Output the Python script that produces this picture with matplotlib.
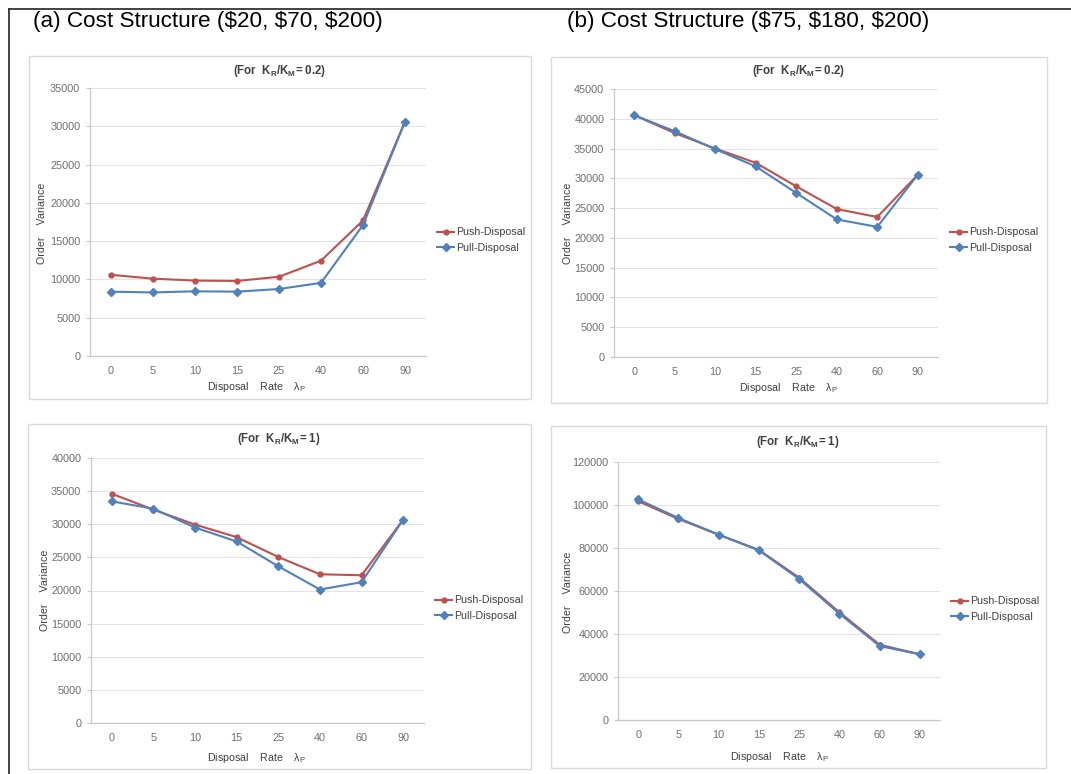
import matplotlib
matplotlib.use("Agg")
import matplotlib.pyplot as plt
from matplotlib.patches import Rectangle
from matplotlib.lines import Line2D

plt.rcParams['font.family'] = ['Liberation Sans', 'DejaVu Sans']
plt.rcParams['mathtext.fontset'] = 'custom'
plt.rcParams['mathtext.rm'] = 'Liberation Sans'
plt.rcParams['mathtext.it'] = 'Liberation Sans:italic'
plt.rcParams['mathtext.bf'] = 'Liberation Sans:bold'

rates = ['0', '5', '10', '15', '25', '40', '60', '90']

# (a) cost structure ($20, $70, $200)
push_a02 = [10600, 10100, 9850, 9800, 10350, 12450, 17700, 30600]
pull_a02 = [8400, 8300, 8450, 8400, 8750, 9550, 17100, 30600]
push_a1 = [34600, 32200, 29950, 28050, 25050, 22450, 22300, 30700]
pull_a1 = [33450, 32350, 29500, 27400, 23650, 20150, 21250, 30700]

# (b) cost structure ($75, $180, $200)
push_b02 = [40600, 37600, 35000, 32600, 28650, 24850, 23500, 30600]
pull_b02 = [40600, 37900, 34900, 32000, 27550, 23100, 21850, 30600]
push_b1 = [101800, 93500, 86200, 79100, 66200, 50100, 35000, 30550]
pull_b1 = [102600, 93950, 86200, 78900, 65600, 49450, 34400, 30550]

headers = ['(a) Cost Structure ($20, $70, $200)',
           '(b) Cost Structure ($75, $180, $200)']

RED = '#C0504D'
BLUE = '#4F81BD'
W, H = 1071, 774

fig = plt.figure(figsize=(W / 100, H / 100), dpi=100)


def fx(x):
    return x / W


def fy(y):
    return 1 - y / H


# outer frame (top and left edges only)
fig.add_artist(Line2D([fx(9), 1.0], [fy(9), fy(9)], color='#222222', lw=1.2))
fig.add_artist(Line2D([fx(9), fx(9)], [fy(9), 0.0], color='#222222', lw=1.2))

fig.text(fx(33), fy(22), headers[0], fontsize=16.2, va='center', ha='left')
fig.text(fx(567), fy(22), headers[1], fontsize=16.2, va='center', ha='left')

panels = [
    # box (x0, y0, x1, y1), axes (l, t, r, b), text anchors in pixels
    dict(box=(29, 56, 531, 399), ax=(90, 88, 426, 356), push=push_a02, pull=pull_a02,
         ymax=35000, step=5000, kr='0.2', title=(280, 71), xl=(256, 387), yl=(42, 223), leg=(437, 240)),
    dict(box=(551, 57, 1047, 403), ax=(614, 89, 938, 357), push=push_b02, pull=pull_b02,
         ymax=45000, step=5000, kr='0.2', title=(799, 71), xl=(788, 388), yl=(568, 223), leg=(950, 240)),
    dict(box=(28, 424, 531, 769), ax=(91, 458, 424, 723), push=push_a1, pull=pull_a1,
         ymax=40000, step=5000, kr='1', title=(279, 439), xl=(256, 758), yl=(45, 590), leg=(435, 608)),
    dict(box=(551, 426, 1046, 768), ax=(618, 462, 940, 720), push=push_b1, pull=pull_b1,
         ymax=120000, step=20000, kr='1', title=(798, 442), xl=(779, 757), yl=(568, 592), leg=(951, 609)),
]

for p in panels:
    x0, y0, x1, y1 = p['box']
    fig.add_artist(Rectangle((fx(x0), fy(y1)), fx(x1 - x0), (y1 - y0) / H,
                             transform=fig.transFigure, fill=False,
                             edgecolor='#D9D9D9', lw=1.0))
    l, t, r, b = p['ax']
    ax = fig.add_axes([fx(l), fy(b), fx(r - l), (b - t) / H])
    xs = range(len(rates))
    ax.plot(xs, p['push'], color=RED, lw=1.5, marker='o', ms=3.5,
            label='Push-Disposal', zorder=3)
    ax.plot(xs, p['pull'], color=BLUE, lw=1.5, marker='D', ms=4.5,
            label='Pull-Disposal', zorder=4)
    ax.set_xlim(-0.5, len(rates) - 0.5)
    ax.set_ylim(0, p['ymax'])
    ax.set_yticks(range(0, p['ymax'] + 1, p['step']))
    ax.set_xticks(list(xs))
    ax.set_xticklabels(rates)
    ax.grid(axis='y', color='#E3E3E3', lw=0.8)
    ax.set_axisbelow(True)
    for s in ('top', 'right'):
        ax.spines[s].set_visible(False)
    for s in ('left', 'bottom'):
        ax.spines[s].set_color('#C8C8C8')
        ax.spines[s].set_linewidth(0.9)
    ax.tick_params(axis='y', length=3, color='#C8C8C8', labelsize=7.8,
                   labelcolor='#6E6E6E', pad=4)
    ax.tick_params(axis='x', length=0, labelsize=7.8, labelcolor='#6E6E6E', pad=7)

    fig.text(fx(p['title'][0]), fy(p['title'][1]),
             r'(For  K$_{\mathbf{R}}$/K$_{\mathbf{M}}$= ' + p['kr'] + ')',
             fontsize=8.3, fontweight='bold', color='#404040', ha='center', va='center')
    fig.text(fx(p['xl'][0]), fy(p['xl'][1]),
             r'Disposal    Rate    λ$_\mathregular{P}$',
             fontsize=7.7, color='#404040', ha='center', va='center')
    fig.text(fx(p['yl'][0]), fy(p['yl'][1]), 'Order    Variance',
             fontsize=7.7, color='#404040', ha='center', va='center', rotation=90)
    ax.legend(loc='center left', bbox_to_anchor=(fx(p['leg'][0]), fy(p['leg'][1])),
              bbox_transform=fig.transFigure, frameon=False, fontsize=7.7,
              handlelength=1.6, handletextpad=0.15, borderpad=0, labelspacing=0.5,
              borderaxespad=0, labelcolor='#404040')

fig.savefig('out.png', dpi=100, facecolor='white')
